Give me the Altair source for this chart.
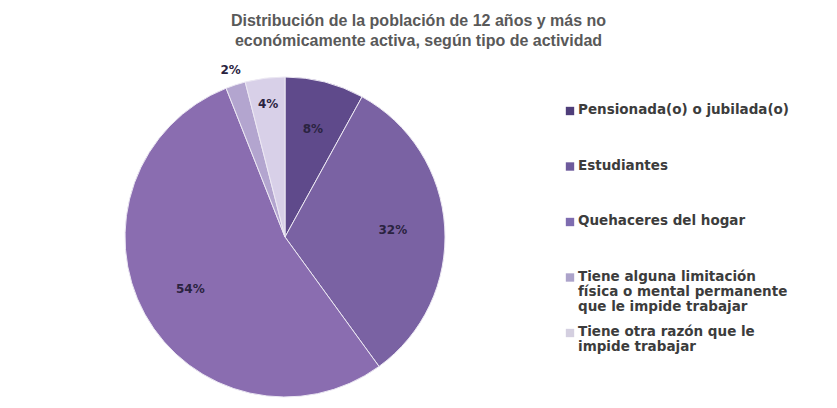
import altair as alt
import pandas as pd

categories = [
    "Pensionada(o) o jubilada(o)",
    "Estudiantes",
    "Quehaceres del hogar",
    "Tiene alguna limitación|física o mental permanente|que le impide trabajar",
    "Tiene otra razón que le|impide trabajar",
]
values = [8, 32, 54, 2, 4]
colors = ["#5f4a8b", "#7a62a3", "#8a6db0", "#b3a5cf", "#d8d0e8"]
legend_colors = ["#4f3e7a", "#6d5a9c", "#7e6cb0", "#aca3ca", "#d4cfe0"]

df = pd.DataFrame({"cat": categories, "pct": values, "ord": list(range(len(values)))})
df["label"] = df["pct"].astype(str) + "%"

cx, cy, R = 272, 186, 160

color = alt.Color(
    "cat:N",
    scale=alt.Scale(domain=categories, range=colors),
    legend=None,
)

pie = alt.Chart(df).mark_arc(outerRadius=R, stroke="#ece8f3", strokeWidth=1).encode(
    theta=alt.Theta("pct:Q", stack=True, scale=alt.Scale(domain=[0, 100])),
    order=alt.Order("ord:Q"),
    color=color,
    x=alt.value(cx),
    y=alt.value(cy),
)

labels = alt.Chart(df).transform_window(
    cum="sum(pct)", sort=[alt.SortField("ord")]
).transform_calculate(
    mid="datum.cum - datum.pct / 2",
    r="datum.pct >= 30 ? 108 : (datum.pct >= 5 ? 112 : (datum.pct >= 3 ? 134 : 176))",
).mark_text(
    font="DejaVu Sans", fontSize=12, fontWeight="bold", color="#2a2340"
).encode(
    theta=alt.Theta("mid:Q", stack=None, scale=alt.Scale(domain=[0, 100])),
    text="label:N",
    radius=alt.Radius("r:Q", scale=None),
    x=alt.value(cx),
    y=alt.value(cy),
)

ypos = alt.Y(
    "cat:N",
    sort=categories,
    scale=alt.Scale(domain=categories, range=[60, 282], padding=0),
    axis=None,
)

leg_sym = alt.Chart(df).mark_square(size=70, opacity=1).encode(
    x=alt.value(557),
    y=ypos,
    color=alt.Color("cat:N", scale=alt.Scale(domain=categories, range=legend_colors), legend=None),
)

leg_txt = alt.Chart(df).mark_text(
    font="DejaVu Sans",
    fontSize=13.5,
    fontWeight="bold",
    color="#3c3c3c",
    align="left",
    baseline="top",
    dy=-8,
    lineBreak="|",
    lineHeight=15,
).encode(
    x=alt.value(565),
    y=ypos,
    text="cat:N",
)

chart = alt.layer(pie, labels, leg_sym, leg_txt).resolve_scale(
    color="independent"
).properties(
    width=821,
    height=392,
    autosize=alt.AutoSizeParams(type="fit", contains="padding"),
    title=alt.TitleParams(
        text=[
            "Distribución de la población de 12 años y más no",
            "económicamente activa, según tipo de actividad",
        ],
        font="Liberation Sans",
        fontSize=16,
        fontWeight="bold",
        color="#595959",
        anchor="middle",
        lineHeight=20,
        offset=4,
        dy=2,
    ),
).configure_view(stroke=None)

chart.save("out.html", embed_options={"renderer": "svg", "actions": False})
